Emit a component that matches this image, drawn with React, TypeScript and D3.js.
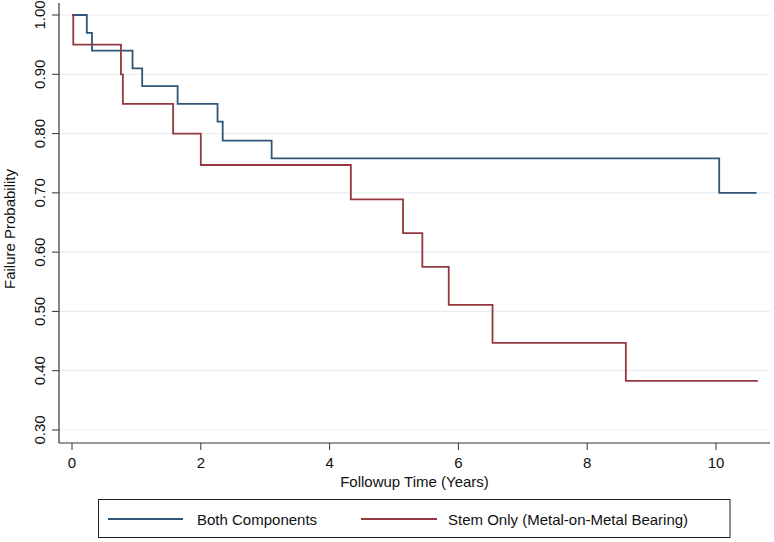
import React from "react";
import * as d3 from "d3";

const blueTimes = [0, 0.23, 0.31, 0.94, 1.09, 1.64, 2.26, 2.34, 3.10, 10.05, 10.63];
const blueValues = [1.0, 0.97, 0.94, 0.91, 0.88, 0.85, 0.82, 0.788, 0.758, 0.70, 0.70];
const redTimes = [0, 0.02, 0.76, 0.79, 1.57, 2.0, 4.33, 5.14, 5.44, 5.85, 6.53, 8.6, 10.65];
const redValues = [1.0, 0.95, 0.9, 0.85, 0.8, 0.747, 0.689, 0.632, 0.575, 0.511, 0.447, 0.383, 0.383];
const xTicks = [0, 2, 4, 6, 8, 10];
const yTicks = [0.3, 0.4, 0.5, 0.6, 0.7, 0.8, 0.9, 1.0];
const seriesNames = ["Both Components", "Stem Only (Metal-on-Metal Bearing)"];
const seriesColors = ["#2f5678", "#93383f"];

const W = 774;
const H = 542;
const FONT = "'Liberation Sans', Arial, Helvetica, sans-serif";
const FS = 15;

export default function App() {
  const x = d3.scaleLinear().domain([0, 10]).range([72, 716]);
  const y = d3.scaleLinear().domain([0.3, 1.0]).range([430, 15]);
  const plotLeft = 59;
  const plotRight = 770;
  const plotBottom = 443;

  const line = d3
    .line<[number, number]>()
    .x((d) => x(d[0]))
    .y((d) => y(d[1]))
    .curve(d3.curveStepAfter);

  const blue = blueTimes.map((t, i) => [t, blueValues[i]] as [number, number]);
  const red = redTimes.map((t, i) => [t, redValues[i]] as [number, number]);

  return (
    <svg
      width={W}
      height={H}
      style={{ position: "absolute", left: 0, top: 0, background: "#fff" }}
      fontFamily={FONT}
    >
      <rect x={0} y={0} width={W} height={H} fill="#fff" />
      {yTicks.map((t) => (
        <line key={"g" + t} x1={plotLeft} x2={plotRight} y1={y(t)} y2={y(t)} stroke="#e6eef1" strokeWidth={1.2} />
      ))}
      <path d={line(blue) || ""} fill="none" stroke={seriesColors[0]} strokeWidth={1.8} />
      <path d={line(red) || ""} fill="none" stroke={seriesColors[1]} strokeWidth={1.8} />
      <line x1={plotLeft} x2={plotLeft} y1={3} y2={plotBottom} stroke="#333" strokeWidth={1.2} />
      <line x1={plotLeft} x2={plotRight} y1={plotBottom} y2={plotBottom} stroke="#333" strokeWidth={1.2} />
      {yTicks.map((t) => (
        <g key={"yt" + t}>
          <line x1={52} x2={plotLeft} y1={y(t)} y2={y(t)} stroke="#333" strokeWidth={1} />
          <text
            transform={`translate(45,${y(t)}) rotate(-90)`}
            textAnchor="middle"
            fontSize={FS}
            fill="#111"
          >
            {t.toFixed(2)}
          </text>
        </g>
      ))}
      {xTicks.map((t) => (
        <g key={"xt" + t}>
          <line x1={x(t)} x2={x(t)} y1={plotBottom} y2={450} stroke="#333" strokeWidth={1} />
          <text x={x(t)} y={467.5} textAnchor="middle" fontSize={FS} fill="#111">
            {t}
          </text>
        </g>
      ))}
      <text x={(plotLeft + plotRight) / 2} y={487} textAnchor="middle" fontSize={FS} fill="#111">
        Followup Time (Years)
      </text>
      <text transform={`translate(15,229) rotate(-90)`} textAnchor="middle" fontSize={FS} fill="#111">
        Failure Probability
      </text>
      <rect x={98.5} y={499.5} width={631.5} height={38} fill="#fff" stroke="#222" strokeWidth={1} />
      <line x1={108} x2={183} y1={519} y2={519} stroke={seriesColors[0]} strokeWidth={1.8} />
      <text x={197} y={524.5} fontSize={FS} fill="#111">
        {seriesNames[0]}
      </text>
      <line x1={361} x2={437} y1={519} y2={519} stroke={seriesColors[1]} strokeWidth={1.8} />
      <text x={448} y={524.5} fontSize={FS} fill="#111">
        {seriesNames[1]}
      </text>
    </svg>
  );
}
